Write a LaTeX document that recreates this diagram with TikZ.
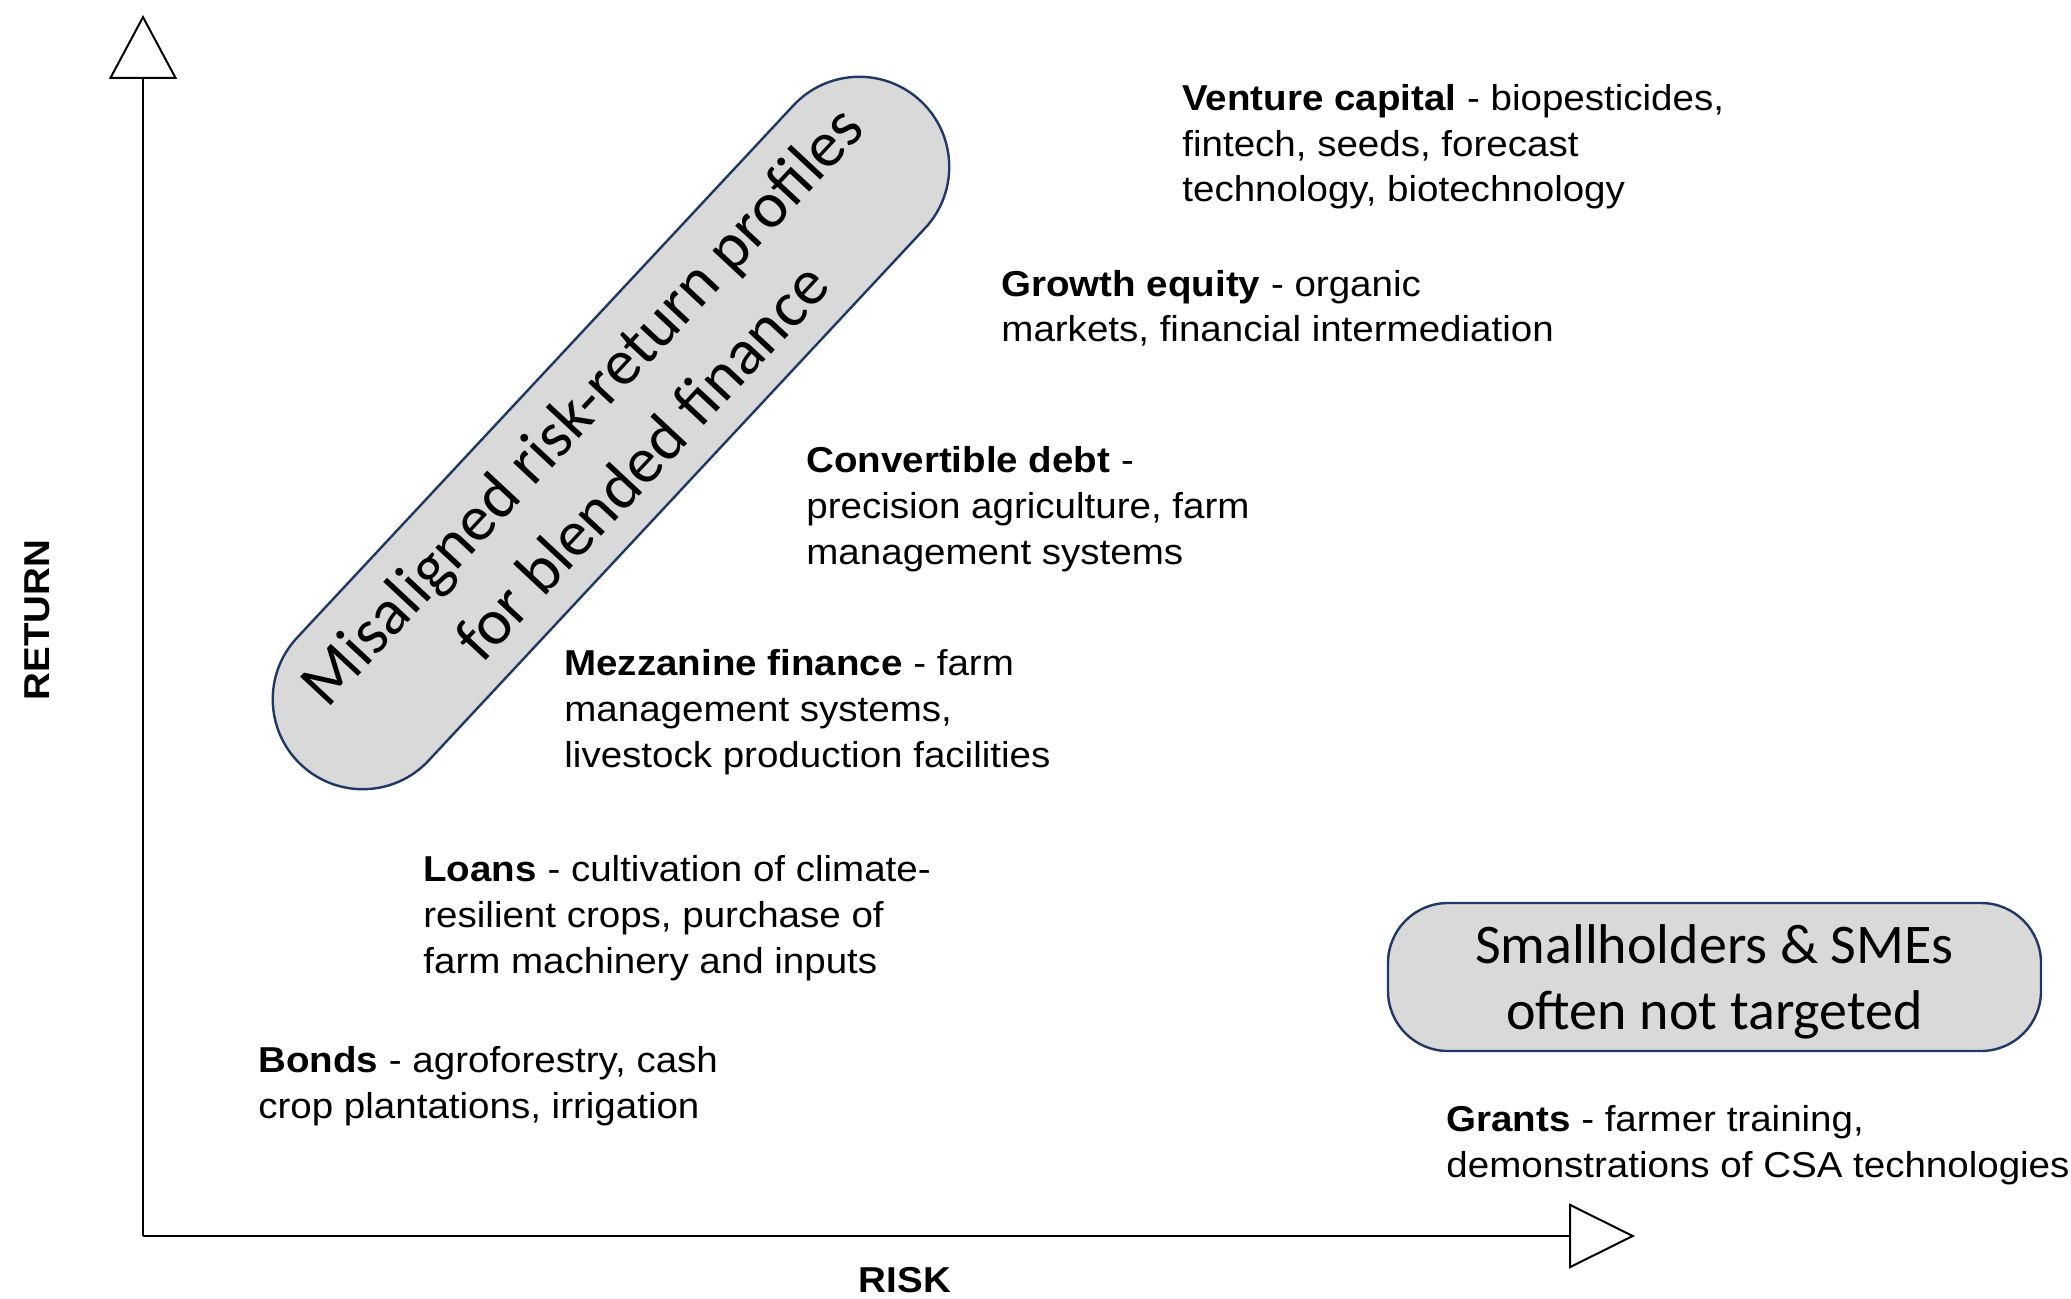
\documentclass[tikz,border=0pt]{standalone}
\usepackage{fontspec}
\usepackage{tikz}
\usepackage{xcolor}
\usetikzlibrary{arrows.meta}
\usetikzlibrary{shapes.misc}

\newfontfamily\blockfont[FakeStretch=1.07]{Liberation Sans}
\newfontfamily\calloutfont{Carlito}
\definecolor{boxgray}{RGB}{217,217,217}
\definecolor{boxline}{RGB}{31,56,100}

\begin{document}
\begin{tikzpicture}[x=0.5pt,y=-0.5pt]
	\useasboundingbox (0,0) rectangle (2071,1299);
	
	\tikzstyle{axis}=[line width=1pt, black]
	\tikzstyle{block}=[anchor=base west, inner sep=0pt, align=left, font=\blockfont\fontsize{18pt}{22.8pt}\selectfont]
	\tikzstyle{axislabel}=[inner sep=0pt, font=\blockfont\bfseries\fontsize{18pt}{22pt}\selectfont]
	\tikzstyle{callout}=[draw=boxline, fill=boxgray, line width=1.2pt, inner sep=0pt, align=center]
	
	% axes
	\coordinate (o) at (143,1236);
	\coordinate (ytop) at (143,15);
	\coordinate (xend) at (1635,1236);
	\draw[axis, -{Triangle[open, length=32pt, width=34pt]}] (o) -- (ytop);
	\draw[axis, -{Triangle[open, length=33pt, width=32.5pt]}] (o) -- (xend);
	
	\node[axislabel, rotate=90] (return) at (37,620) {RETURN};
	\node[axislabel, anchor=base] (risk) at (905,1292) {RISK};
	
	% instruments (base = last line)
	\node[block] (venture) at (1182,202) {\textbf{Venture capital} - biopesticides,\\fintech, seeds, forecast\\technology, biotechnology};
	\node[block] (growth) at (1001,342) {\textbf{Growth equity} - organic\\markets, financial intermediation};
	\node[block] (convertible) at (806,564) {\textbf{Convertible debt} -\\precision agriculture, farm\\management systems};
	\node[block] (mezzanine) at (564,767) {\textbf{Mezzanine finance} - farm\\management systems,\\livestock production facilities};
	\node[block] (loans) at (423,973) {\textbf{Loans} - cultivation of climate-\\resilient crops, purchase of\\farm machinery and inputs};
	\node[block] (bonds) at (258,1118) {\textbf{Bonds} - agroforestry, cash\\crop plantations, irrigation};
	\node[block] (grants) at (1446,1177) {\textbf{Grants} - farmer training,\\demonstrations of CSA technologies};
	
	% callouts
	\node[callout, rounded rectangle, rotate=47, minimum width=454pt, minimum height=90pt, font=\calloutfont\fontsize{32.5pt}{41.3pt}\selectfont] (misaligned) at (611,433) {Misaligned risk-return profiles\\for blended finance};
	\node[callout, rounded corners=30pt, minimum width=326.5pt, minimum height=74pt, font=\calloutfont\fontsize{28pt}{33pt}\selectfont] (smallholders) at (1714.5,977) {Smallholders \& SMEs\\often not targeted\vspace{-5pt}};
\end{tikzpicture}
\end{document}
